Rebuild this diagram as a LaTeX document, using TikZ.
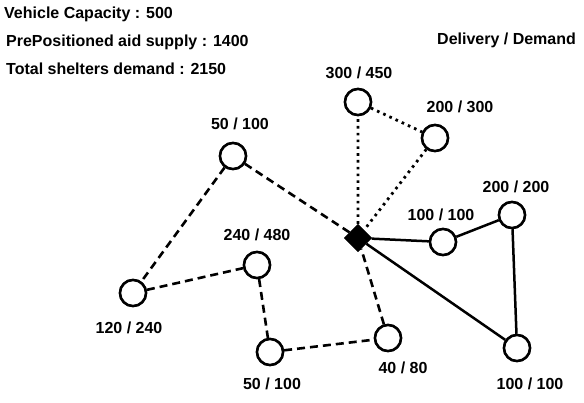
\documentclass[tikz,border=0pt]{standalone}
\usepackage{fontspec}
\setmainfont{Liberation Sans}
\usetikzlibrary{shapes.geometric}
\begin{document}
\begin{tikzpicture}[x=1pt,y=-1pt,
  shelter/.style={circle,draw=black,fill=white,line width=2.5pt,minimum size=26pt,inner sep=0pt},
  depot/.style={diamond,fill=black,minimum width=28pt,minimum height=28pt,inner sep=0pt},
  lbl/.style={inner sep=0pt,anchor=base,font=\fontsize{16}{19}\selectfont\bfseries},
  info/.style={inner sep=0pt,anchor=base west,font=\fontsize{16}{19}\selectfont\bfseries},
  dashroute/.style={line width=2.6pt,dash pattern=on 8pt off 5pt},
  dotroute/.style={line width=2.8pt,dash pattern=on 2.6pt off 4.2pt},
  solidroute/.style={line width=2.5pt}]
\useasboundingbox (0,0) rectangle (584,403);
\fill[white] (0,0) rectangle (584,403);

% info texts
\node[info] (t1) at (4,18.5) {Vehicle Capacity : 500};
\node[info] (t2) at (6,46.7) {PrePositioned aid supply : 1400};
\node[info] (t3) at (6,74.7) {Total shelters demand : 2150};
\node[info] (t4) at (437,45) {Delivery / Demand};

% nodes
\node[depot] (d) at (358,238) {};
\node[shelter] (a) at (358,102) {};
\node[shelter] (b) at (435,138) {};
\node[shelter] (c) at (233,156) {};
\node[shelter] (e) at (443,242) {};
\node[shelter] (f) at (512,215) {};
\node[shelter] (g) at (257,265) {};
\node[shelter] (h) at (133,293) {};
\node[shelter] (i) at (270,352) {};
\node[shelter] (j) at (388,338) {};
\node[shelter] (k) at (517,348) {};

% routes
\draw[dashroute] (d) -- (c) -- (h) -- (g) -- (i) -- (j) -- (d);
\draw[dotroute] (d) -- (a) -- (b) -- (d);
\draw[solidroute] (d) -- (e) -- (f) -- (k) -- (d);

% redraw nodes on top
\node[depot] at (d) {};
\foreach \n in {a,b,c,e,f,g,h,i,j,k} \node[shelter] at (\n) {};

% labels
\node[lbl] (la) at (359,79) {300 / 450};
\node[lbl] (lb) at (460,112.3) {200 / 300};
\node[lbl] (lc) at (240,130) {50 / 100};
\node[lbl] (le) at (441,220.7) {100 / 100};
\node[lbl] (lf) at (516,192.7) {200 / 200};
\node[lbl] (lg) at (257,240.7) {240 / 480};
\node[lbl] (lh) at (129,334) {120 / 240};
\node[lbl] (li) at (272,390) {50 / 100};
\node[lbl] (lj) at (403,373.3) {40 / 80};
\node[lbl] (lk) at (530,389.3) {100 / 100};
\end{tikzpicture}
\end{document}
